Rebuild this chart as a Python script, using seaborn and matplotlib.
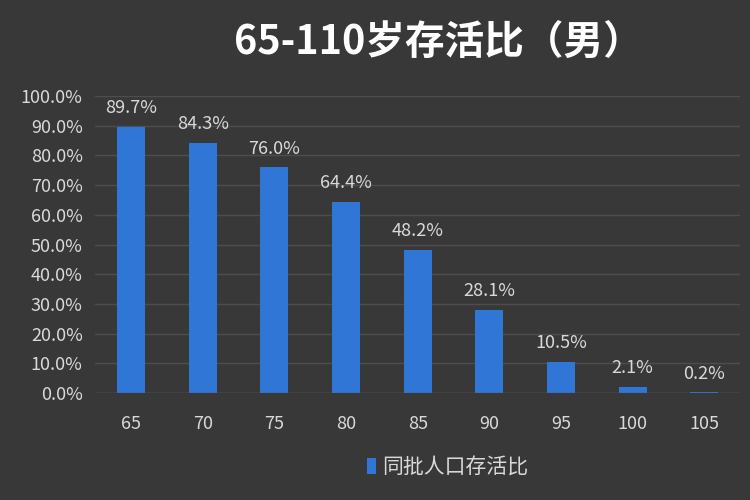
import matplotlib
matplotlib.use("Agg")
import matplotlib.pyplot as plt
import seaborn as sns
import pandas as pd
from matplotlib.ticker import PercentFormatter

ages = ["65", "70", "75", "80", "85", "90", "95", "100", "105"]
survival = [0.897, 0.843, 0.760, 0.644, 0.482, 0.281, 0.105, 0.021, 0.002]
labels = ["89.7%", "84.3%", "76.0%", "64.4%", "48.2%", "28.1%", "10.5%", "2.1%", "0.2%"]
series_name = "同批人口存活比"
title = "65-110岁存活比（男）"

df = pd.DataFrame({"age": ages, "value": survival, "series": series_name})

sns.set_theme(style="dark")
plt.rcParams['font.family'] = ['Noto Sans CJK SC', 'DejaVu Sans']

bg = "#383838"
txt = "#d9d9d9"
fig = plt.figure(figsize=(7.5, 5), dpi=100, facecolor=bg)
ax = fig.add_axes([0.127, 0.214, 0.86, 0.594])
ax.set_facecolor(bg)

sns.barplot(data=df, x="age", y="value", hue="series", palette=["#2f76d6"],
            saturation=1, width=0.39, linewidth=0, edgecolor="none",
            ax=ax, legend=True)

ax.set_ylim(0, 1.0)
ax.set_yticks([i / 10 for i in range(11)])
ax.yaxis.set_major_formatter(PercentFormatter(1.0, decimals=1))
ax.grid(axis="y", color="#4d4d4d", linewidth=1)
ax.grid(axis="x", visible=False)
ax.set_axisbelow(True)
for s in ax.spines.values():
    s.set_visible(False)
ax.axhline(0, color="#5a5a5a", linewidth=1)
ax.tick_params(axis="y", colors=txt, labelsize=13, length=0, pad=9)
ax.tick_params(axis="x", colors=txt, labelsize=13, length=0, pad=16)
ax.set_xlabel("")
ax.set_ylabel("")

for c in ax.containers:
    ax.bar_label(c, labels=labels, color=txt, fontsize=13, padding=7)

leg = ax.legend(loc="center", bbox_to_anchor=(0.546, -0.25), frameon=False,
                fontsize=15, handlelength=0.45, handleheight=0.8, handletextpad=0.3)
for t in leg.get_texts():
    t.set_color(txt)

fig.text(0.585, 0.916, title, ha="center", va="center", color="white",
         fontsize=28.5, fontweight="bold")

fig.savefig("out.png", dpi=100, facecolor=bg)
